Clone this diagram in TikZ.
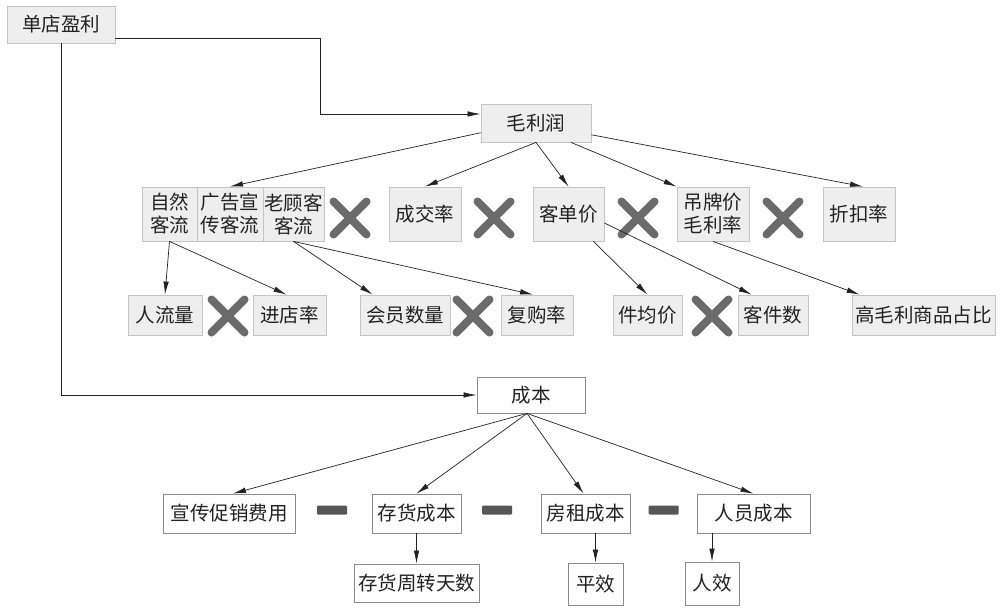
\documentclass[tikz,border=0pt]{standalone}
\usepackage{fontspec}
\setmainfont{Noto Sans CJK SC}
\usetikzlibrary{arrows.meta,shapes.misc}
\definecolor{boxfill}{HTML}{EEEEEE}
\definecolor{boxline}{HTML}{C4C4C4}
\definecolor{wline}{HTML}{8A8A8A}
\definecolor{xgray}{HTML}{6B6B6B}
\definecolor{ink}{HTML}{222222}
\tikzset{
  gbox/.style={draw=boxline, fill=boxfill, line width=0.8pt, inner sep=1pt, text=ink,
    font=\fontsize{19.5}{23}\selectfont, align=center},
  wbox/.style={draw=wline, fill=white, line width=0.8pt, inner sep=1pt, text=ink,
    font=\fontsize{19.5}{23}\selectfont, align=center},
  conn/.style={draw=ink, line width=0.7pt, -{Latex[length=13pt,width=5.5pt]}},
  xmark/.style={cross out, draw=xgray, line width=8pt, line cap=round, minimum size=25pt, inner sep=0pt},
  dashbar/.style={fill=xgray!80!black, rounded corners=1pt, minimum width=30pt, minimum height=9pt, inner sep=0pt}
}
\begin{document}
\begin{tikzpicture}[x=1pt,y=-1pt]
\useasboundingbox[fill=white] (0,0) rectangle (1000,607);

% top
\node[gbox, minimum width=108pt, minimum height=37pt] (dd) at (61,24.5) {单店盈利};
\node[gbox, minimum width=110pt, minimum height=38pt] (mlr) at (536,123) {毛利润};

% row 2
\node[gbox, minimum width=55pt, minimum height=54pt] (zr) at (169.5,214) {自然\\客流};
\node[gbox, minimum width=66pt, minimum height=54pt] (gg) at (230,214) {广告宣\\传客流};
\node[gbox, minimum width=61pt, minimum height=54pt] (lgk) at (293.5,214) {老顾客\\客流};
\node[xmark] (x1) at (350,218) {};
\node[gbox, minimum width=72pt, minimum height=54pt] (cjl) at (425,214) {成交率};
\node[xmark] (x2) at (494,218) {};
\node[gbox, minimum width=71pt, minimum height=54pt] (kdj) at (568.5,214) {客单价};
\node[xmark] (x3) at (638,218) {};
\node[gbox, minimum width=72pt, minimum height=54pt] (dpj) at (713,214) {吊牌价\\毛利率};
\node[xmark] (x4) at (783,218) {};
\node[gbox, minimum width=72pt, minimum height=54pt] (zkl) at (859,214) {折扣率};

% row 3
\node[gbox, minimum width=74pt, minimum height=40pt] (rll) at (165,315) {人流量};
\node[xmark] (x5) at (228,316) {};
\node[gbox, minimum width=73pt, minimum height=40pt] (jdl) at (289.5,315) {进店率};
\node[gbox, minimum width=90pt, minimum height=40pt] (hysl) at (405,315) {会员数量};
\node[xmark] (x6) at (473,316) {};
\node[gbox, minimum width=72pt, minimum height=40pt] (fgl) at (537,315) {复购率};
\node[gbox, minimum width=69pt, minimum height=40pt] (jjj) at (647.5,315) {件均价};
\node[xmark] (x7) at (712,316) {};
\node[gbox, minimum width=70pt, minimum height=40pt] (kjs) at (773,315) {客件数};
\node[gbox, minimum width=143pt, minimum height=40pt] (gml) at (923.5,315) {高毛利商品占比};

% cost part
\node[wbox, minimum width=108pt, minimum height=36pt] (cb) at (531,395) {成本};
\node[wbox, minimum width=132pt, minimum height=39pt] (xc) at (229,513.5) {宣传促销费用};
\node[dashbar] (d1) at (332,510) {};
\node[wbox, minimum width=89pt, minimum height=39pt] (ch) at (416.5,513.5) {存货成本};
\node[dashbar] (d2) at (497,510) {};
\node[wbox, minimum width=89pt, minimum height=39pt] (fz) at (585.5,513.5) {房租成本};
\node[dashbar] (d3) at (663.5,510) {};
\node[wbox, minimum width=113pt, minimum height=39pt] (ry) at (753.5,513.5) {人员成本};
\node[wbox, minimum width=125pt, minimum height=38pt] (chzz) at (416.5,583) {存货周转天数};
\node[wbox, minimum width=55pt, minimum height=42pt] (px) at (595.5,584) {平效};
\node[wbox, minimum width=54pt, minimum height=43pt] (rx) at (712,583.5) {人效};

% connectors from top
\draw[conn] ([yshift=-14pt]dd.east) -- ++(205,0) |- ([yshift=9pt]mlr.west);
\draw[conn] (dd.south) |- (cb.west);

% from 毛利润
\draw[conn] (mlr.190) -- (gg.north);
\draw[conn] (mlr.south) -- (cjl.north);
\draw[conn] (mlr.south) -- (kdj.north);
\draw[conn] ([xshift=35pt]mlr.south) -- (dpj.north west);
\draw[conn] (mlr.-12) -- ([xshift=4pt]zkl.north);

% row 2 -> row 3
\draw[conn] (zr.south) -- (rll.north);
\draw[conn] (zr.south) -- ([xshift=-3pt]jdl.north);
\draw[conn] (lgk.south) -- ([xshift=13pt]hysl.north west);
\draw[conn] (lgk.south) -- ([xshift=-4pt]fgl.north);
\draw[conn] ([xshift=-11pt]kdj.south east) -- (jjj.north);
\draw[conn] ([yshift=-9pt]kdj.east) -- ([xshift=14pt]kjs.north west);
\draw[conn] (dpj.south) -- ([xshift=8pt]gml.north west);

% cost
\draw[conn] ([xshift=-4pt]cb.south) -- ([xshift=4pt]xc.north);
\draw[conn] ([xshift=-4pt]cb.south) -- (ch.north);
\draw[conn] ([xshift=-4pt]cb.south) -- ([xshift=-2pt]fz.north);
\draw[conn] ([xshift=-4pt]cb.south) -- (ry.north);
\draw[conn] (ch.south) -- (chzz.north);
\draw[conn] (px.north |- fz.south) -- (px.north);
\draw[conn] (rx.north |- ry.south) -- (rx.north);
\end{tikzpicture}
\end{document}
